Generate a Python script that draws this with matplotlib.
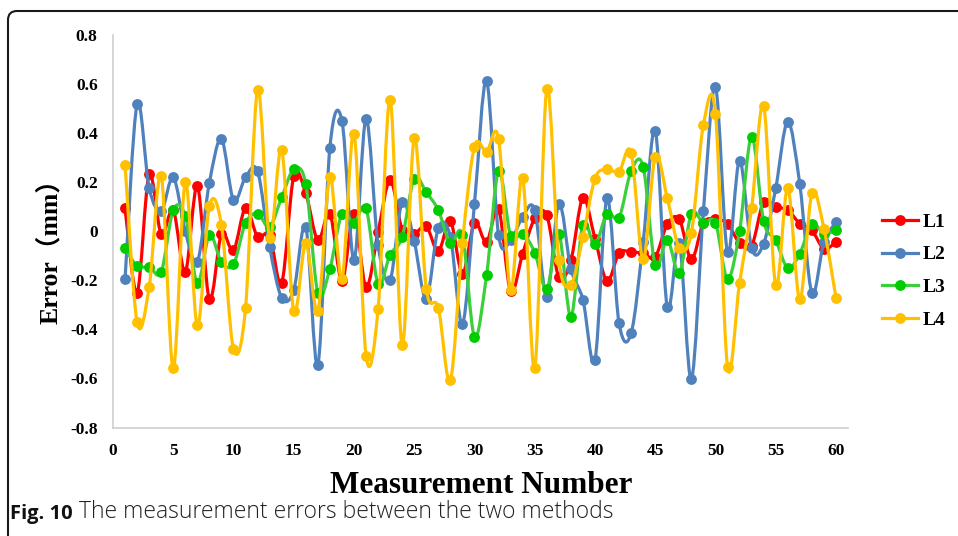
import numpy as np
import matplotlib
matplotlib.use("Agg")
import matplotlib.pyplot as plt
from matplotlib.path import Path
from matplotlib.patches import PathPatch, FancyBboxPatch
from matplotlib.lines import Line2D
from matplotlib.transforms import IdentityTransform

# ---------------- data ----------------
measurement = list(range(1, 61))

L1 = [0.093, -0.250, 0.232, -0.012, 0.086, -0.166, 0.184, -0.278, -0.012, -0.078,
      0.095, -0.023, -0.016, -0.211, 0.225, 0.154, -0.037, 0.072, -0.203, 0.070,
      -0.228, -0.003, 0.209, 0.007, -0.010, 0.020, -0.082, 0.041, -0.173, 0.034,
      -0.044, 0.090, -0.244, -0.091, 0.052, 0.065, -0.187, -0.119, 0.136, -0.030,
      -0.203, -0.089, -0.085, -0.090, -0.105, 0.029, 0.049, -0.115, 0.034, 0.048,
      0.031, -0.048, -0.060, 0.120, 0.099, 0.086, 0.031, 0.004, -0.071, -0.044]

L2 = [-0.196, 0.518, 0.177, 0.083, 0.220, 0.000, -0.125, 0.198, 0.375, 0.127,
      0.220, 0.245, -0.064, -0.271, -0.241, 0.018, -0.544, 0.341, 0.451, -0.116,
      0.457, -0.057, -0.198, 0.120, -0.041, -0.275, 0.014, -0.023, -0.378, 0.113,
      0.613, -0.016, -0.037, 0.059, 0.086, -0.266, 0.113, -0.153, -0.279, -0.525,
      0.134, -0.375, -0.416, -0.044, 0.410, -0.310, -0.048, -0.603, 0.082, 0.588,
      -0.085, 0.288, -0.068, -0.050, 0.175, 0.447, 0.191, -0.251, -0.044, 0.036]

L3 = [-0.068, -0.142, -0.145, -0.166, 0.086, 0.063, -0.211, -0.016, -0.125, -0.135,
      0.034, 0.072, 0.018, 0.138, 0.252, 0.192, -0.251, -0.153, 0.072, 0.034,
      0.093, -0.214, -0.095, -0.023, 0.215, 0.158, 0.086, -0.048, -0.016, -0.430,
      -0.180, 0.245, -0.019, -0.010, -0.087, -0.235, -0.010, -0.348, 0.027, -0.054,
      0.072, 0.056, 0.245, 0.263, -0.139, -0.034, -0.169, 0.070, 0.034, 0.034,
      -0.194, 0.001, 0.386, 0.041, -0.037, -0.150, -0.091, 0.031, -0.010, 0.004]

L4 = [0.270, -0.371, -0.228, 0.226, -0.558, 0.199, -0.384, 0.102, 0.025, -0.480,
      -0.312, 0.577, -0.026, 0.331, -0.326, -0.048, -0.326, 0.220, -0.194, 0.397,
      -0.507, -0.316, 0.536, -0.464, 0.379, -0.235, -0.312, -0.607, -0.048, 0.345,
      0.324, 0.376, -0.241, 0.218, -0.558, 0.580, -0.116, -0.218, -0.023, 0.215,
      0.252, 0.243, 0.320, -0.115, 0.304, 0.136, -0.068, -0.007, 0.434, 0.479,
      -0.552, -0.211, 0.095, 0.511, -0.221, 0.175, -0.278, 0.154, 0.011, -0.271]

series_names = ["L1", "L2", "L3", "L4"]
series_values = [L1, L2, L3, L4]
line_colors = ["#FF0000", "#4F81BD", "#3CCF3C", "#FFC000"]
marker_colors = ["#FF0000", "#4F81BD", "#00CC00", "#FFC000"]

xticks = [0, 5, 10, 15, 20, 25, 30, 35, 40, 45, 50, 55, 60]
yticks = [-0.8, -0.6, -0.4, -0.2, 0.0, 0.2, 0.4, 0.6, 0.8]
ytick_labels = ["-0.8", "-0.6", "-0.4", "-0.2", "0", "0.2", "0.4", "0.6", "0.8"]

x_label = "Measurement Number"
y_label = "Error（mm）"
caption_bold = "Fig. 10"
caption_text = " The measurement errors between the two methods"

# ---------------- figure ----------------
W, H = 958, 536
fig = plt.figure(figsize=(W / 100, H / 100), dpi=100)
fig.patch.set_facecolor("white")

# rounded frame around the figure
frame = FancyBboxPatch((8, -30), 1000, H - 11 + 30,
                       boxstyle="round,pad=0,rounding_size=9",
                       transform=IdentityTransform(), facecolor="none",
                       edgecolor="#1a1a1a", linewidth=1.5)
fig.patches.append(frame)

ax = fig.add_axes([113 / W, 1 - 427.5 / H, (848 - 113) / W, (427.5 - 35) / H])

serif = ["Liberation Serif", "Noto Sans CJK SC", "DejaVu Sans"]


def smooth_path(x, y):
    P = np.column_stack([np.asarray(x, float), np.asarray(y, float)])
    n = len(P)
    verts = [P[0]]
    codes = [Path.MOVETO]
    for i in range(n - 1):
        p0 = P[i - 1] if i > 0 else P[i]
        p1 = P[i]
        p2 = P[i + 1]
        p3 = P[i + 2] if i + 2 < n else P[i + 1]
        c1 = p1 + (p2 - p0) / 6.0
        c2 = p2 - (p3 - p1) / 6.0
        verts += [c1, c2, p2]
        codes += [Path.CURVE4] * 3
    return Path(verts, codes)


handles = []
for k, (name, vals) in enumerate(zip(series_names, series_values)):
    patch = PathPatch(smooth_path(measurement, vals), facecolor="none",
                      edgecolor=line_colors[k], linewidth=2.3,
                      capstyle="round", joinstyle="round", zorder=2 + k)
    ax.add_patch(patch)
    ax.plot(measurement, vals, linestyle="none", marker="o", markersize=7.8,
            color=marker_colors[k], markeredgewidth=0, zorder=2 + k)
    handles.append(Line2D([], [], color=line_colors[k], linewidth=2.3,
                          marker="o", markersize=7.8,
                          markerfacecolor=marker_colors[k],
                          markeredgewidth=0))

ax.set_xlim(0, 61)
ax.set_ylim(-0.8, 0.8)
ax.set_xticks(xticks)
ax.set_xticklabels([str(t) for t in xticks])
ax.set_yticks(yticks)
ax.set_yticklabels(ytick_labels)

for s in ["top", "right"]:
    ax.spines[s].set_visible(False)
for s in ["left", "bottom"]:
    ax.spines[s].set_color("#D0D0D0")
    ax.spines[s].set_linewidth(1.2)

ax.tick_params(axis="both", length=0)
ax.tick_params(axis="y", pad=11)
ax.tick_params(axis="x", pad=11)
for lbl in ax.get_xticklabels() + ax.get_yticklabels():
    lbl.set_fontfamily(serif)
    lbl.set_fontweight("bold")
    lbl.set_fontsize(12.5)

ax.set_xlabel(x_label, fontfamily=serif, fontweight="bold", fontsize=22.5)
ax.xaxis.set_label_coords((481 - 113) / 735, (427.5 - 471) / 392.5)
ax.set_ylabel(y_label, fontfamily=serif, fontweight="bold", fontsize=18.5)
ax.yaxis.set_label_coords((62 - 113) / 735, 0.465)

fig.legend(handles, series_names, loc="upper left",
           bbox_to_anchor=(882 / W, 1 - 213 / H), frameon=False,
           prop={"family": serif, "weight": "bold", "size": 14},
           handlelength=1.85, handletextpad=0.25, labelspacing=0.78,
           borderpad=0, borderaxespad=0)

t1 = fig.text(10 / W, 1 - 524 / H, caption_bold, fontfamily="Open Sans",
              fontweight="bold", fontsize=14.5, ha="left", va="bottom",
              color="#111111")
ax.annotate(caption_text, xy=(1, 0), xycoords=t1, ha="left", va="bottom",
            fontfamily="Open Sans", fontweight="light", fontsize=16.5,
            color="#222222", annotation_clip=False)

fig.savefig("out.png", dpi=100)
